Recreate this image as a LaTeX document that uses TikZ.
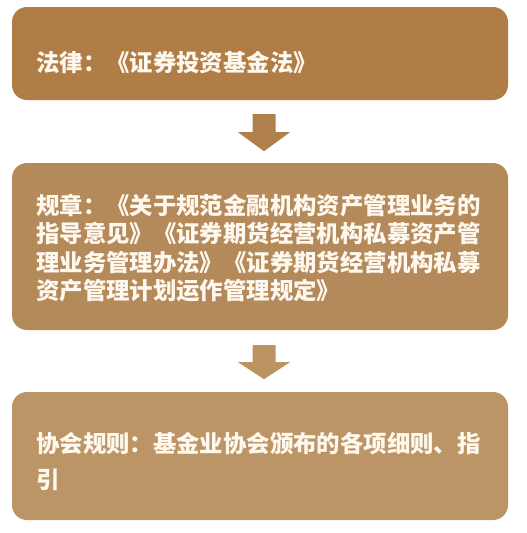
\documentclass[tikz,border=0pt]{standalone}
\usepackage{fontspec}
\usetikzlibrary{calc}
\newfontfamily\cjk{Noto Sans CJK SC}
\begin{document}
\begin{tikzpicture}[x=1pt,y=-1pt,
  box/.style={draw=none, rounded corners=15pt, minimum width=496pt, inner sep=0pt},
  txt/.style={text=textc, inner sep=0pt, anchor=west, align=left, font=\cjk\bfseries\fontsize{23.4pt}{28.3pt}\selectfont},
  arr/.style={draw=none}]
\definecolor{c1}{HTML}{B07D47}
\definecolor{c2}{HTML}{B48A5B}
\definecolor{c3}{HTML}{BC9566}
\definecolor{a1}{HTML}{B07F4C}
\definecolor{a2}{HTML}{BC9461}
\definecolor{textc}{HTML}{FFF8EE}
\useasboundingbox[fill=white] (0,0) rectangle (527,533);
% boxes
\node[box, fill=c1, minimum height=93pt] (b1) at (260,53.5) {};
\node[box, fill=c2, minimum height=167pt] (b2) at (260,246.5) {};
\node[box, fill=c3, minimum height=128pt] (b3) at (260,456) {};
% texts
\node[txt] (t1) at (36,62) {法律：《证券投资基金法》};
\node[txt] (t2) at (36,248) {规章：《关于规范金融机构资产管理业务的\\指导意见》《证券期货经营机构私募资产管\\理业务管理办法》《证券期货经营机构私募\\资产管理计划运作管理规定》};
\node[txt, font=\cjk\bfseries\fontsize{23.4pt}{36pt}\selectfont] (t3) at (36,461) {协会规则：基金业协会颁布的各项细则、指\\引};
% arrows
\coordinate (s1) at ($(b1.south)+(4,14)$);
\coordinate (s2) at ($(b2.south)+(4,15)$);
\fill[a1] (s1) ++(-11.5,0) -- ++(23,0) -- ++(0,18) -- ++(14.5,0) -- ($(s1)+(0,37)$) -- ($(s1)+(-26,18)$) -- ($(s1)+(-11.5,18)$) -- cycle;
\fill[a2] (s2) ++(-11.5,0) -- ++(23,0) -- ++(0,17) -- ++(14.5,0) -- ($(s2)+(0,34)$) -- ($(s2)+(-26,17)$) -- ($(s2)+(-11.5,17)$) -- cycle;
\end{tikzpicture}
\end{document}
